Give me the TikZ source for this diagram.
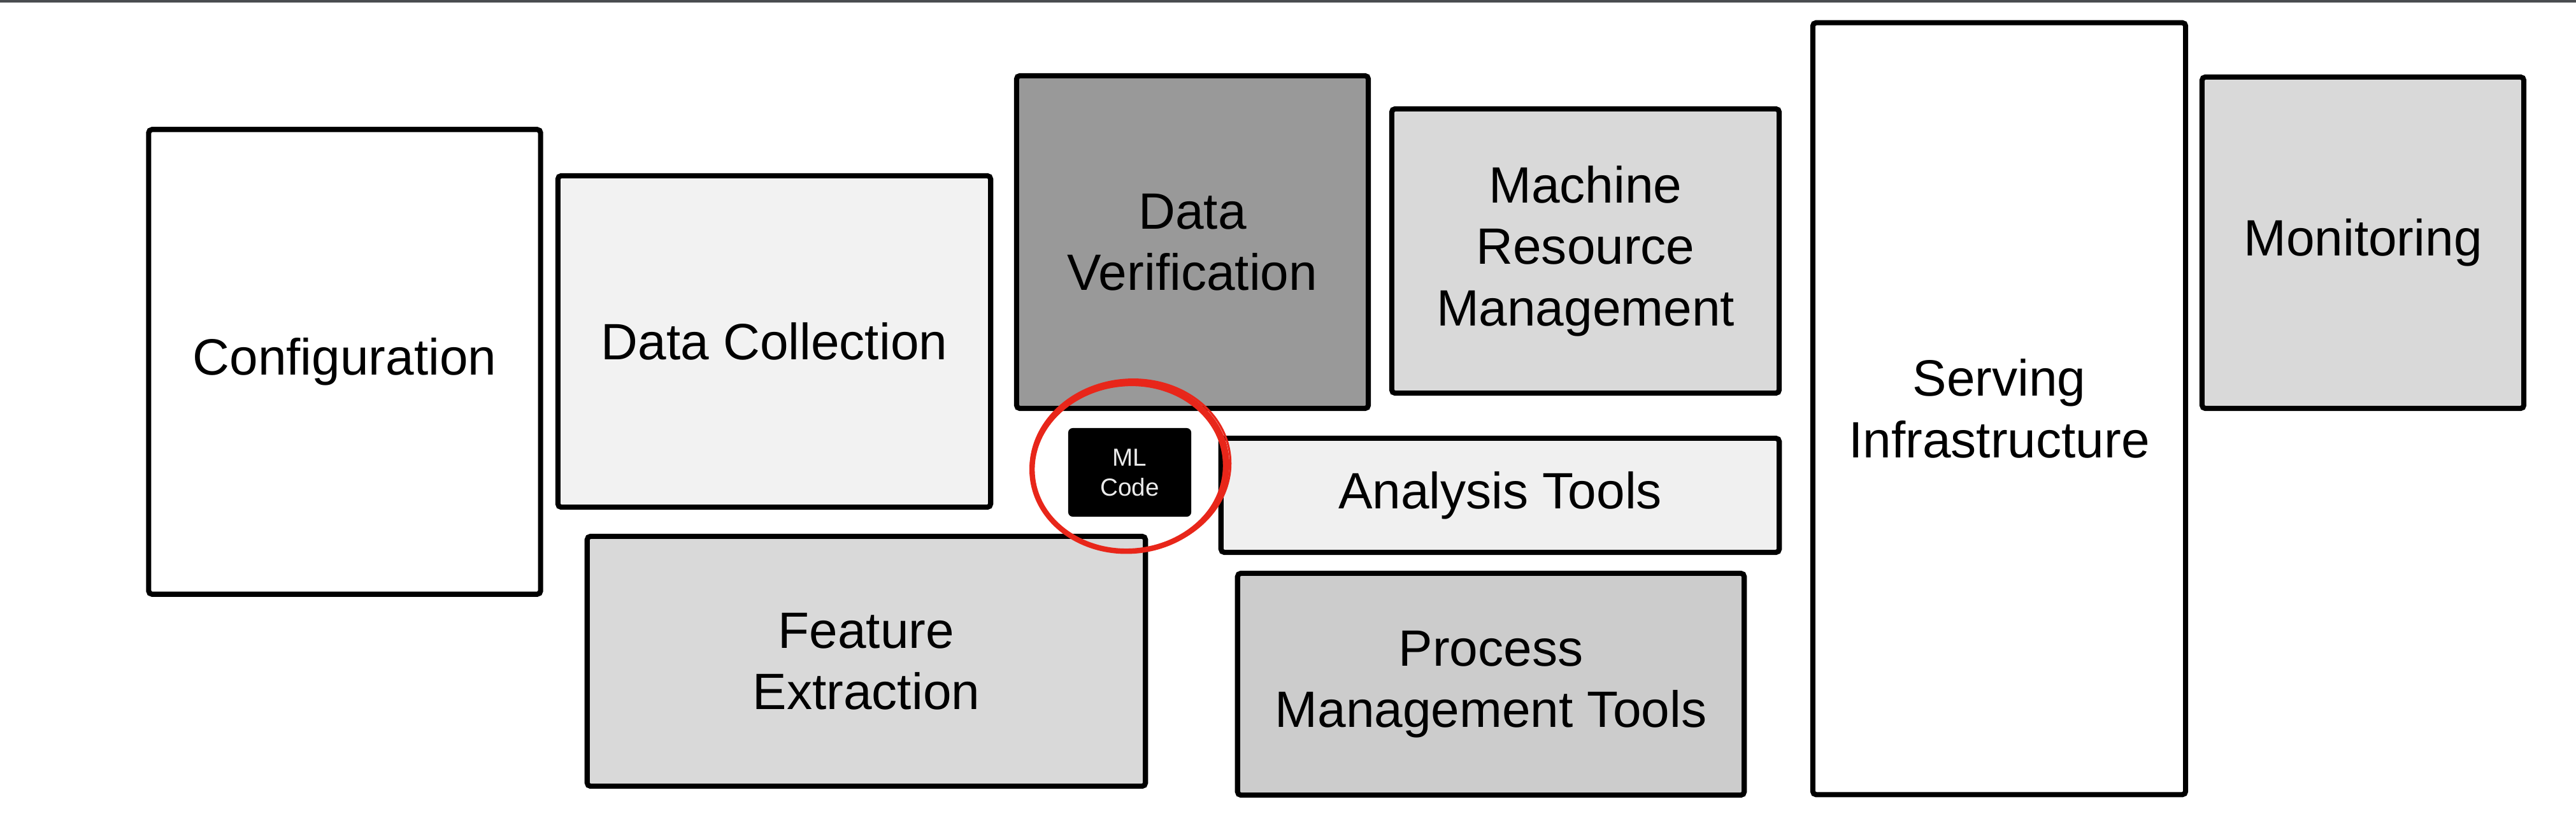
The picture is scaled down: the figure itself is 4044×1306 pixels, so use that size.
\documentclass[tikz,border=0pt]{standalone}
\usepackage{fontspec}
\setmainfont{Liberation Sans}
\definecolor{topbar}{HTML}{4A4D50}
\definecolor{ringred}{HTML}{E8261A}
\tikzset{
  blk/.style={draw, line width=2.3pt, rounded corners=1.5pt, align=center, inner sep=0pt,
    font=\fontsize{22.8}{27.4}\selectfont},
  mlring/.style={draw=ringred, line cap=round},
}
\begin{document}
\begin{tikzpicture}[x=0.01cm,y=-0.01cm]
\useasboundingbox (0,0) rectangle (4044,1306);
\fill[topbar] (0,0) rectangle (4044,4);

\node[blk, fill=white, minimum width=6.15cm, minimum height=7.29cm] (1) at (541,568) {Configuration};
\node[blk, fill=black!5, minimum width=6.79cm, minimum height=5.20cm] (2) at (1215.5,536) {Data Collection};
\node[blk, fill=black!40, minimum width=5.52cm, minimum height=5.22cm] (3) at (1872,380) {Data\\Verification};
\node[blk, fill=black!15, minimum width=6.08cm, minimum height=4.46cm] (4) at (2489,394) {Machine\\Resource\\Management};
\node[blk, fill=white, minimum width=5.85cm, minimum height=12.11cm] (5) at (3138.5,641.5) {Serving\\Infrastructure};
\node[blk, fill=black!15, minimum width=5.05cm, minimum height=5.20cm] (6) at (3709.5,381) {Monitoring};
\node[blk, fill=black!6, minimum width=8.76cm, minimum height=1.79cm] (7) at (2355,777.5) {Analysis Tools};
\node[blk, fill=black!15, minimum width=8.76cm, minimum height=3.92cm] (8) at (1360,1038) {Feature\\Extraction};
\node[blk, fill=black!20, minimum width=7.95cm, minimum height=3.48cm] (9) at (2340.5,1074) {Process\\Management Tools};
\node[fill=black, text=white!92!black, rounded corners=2pt, align=center, inner sep=0pt,
  minimum width=1.93cm, minimum height=1.39cm, font=\fontsize{11}{13.4}\selectfont] (10) at (1773.5,741.5) {ML\\Code};

\coordinate (c) at (1773,733);
\draw[mlring, line width=2.4pt, rotate around={6:(c)}] (c) ellipse [x radius=153, y radius=132];
\draw[mlring, line width=0.9pt, rotate around={5:(c)}] (1775,731) ellipse [x radius=157, y radius=135];
\draw[mlring, line width=0.7pt, rotate around={7:(c)}] (1771,735) ellipse [x radius=150, y radius=130];
\end{tikzpicture}
\end{document}
